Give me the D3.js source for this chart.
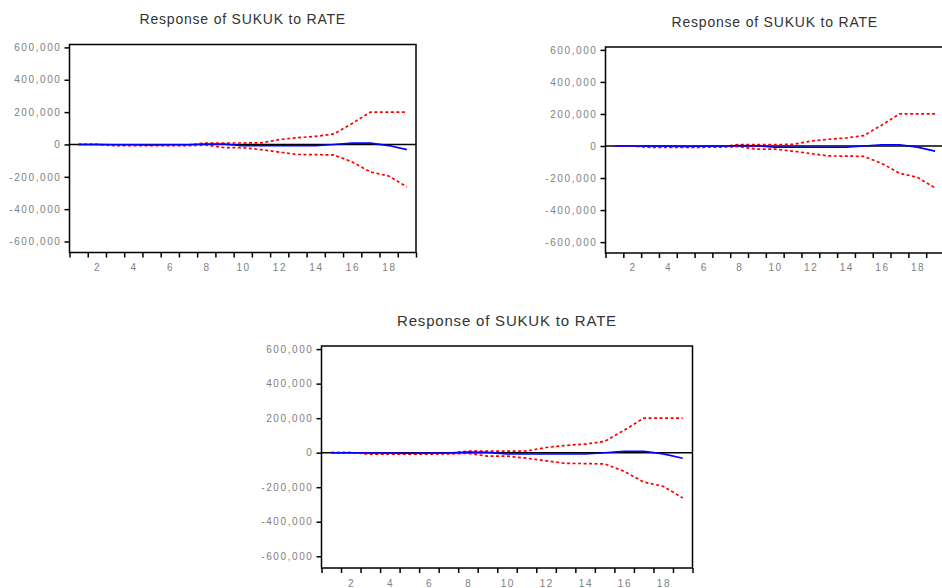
<!DOCTYPE html>
<html>
<head>
<meta charset="utf-8">
<script src="https://cdn.jsdelivr.net/npm/d3@7"></script>
<style>
  body { margin: 0; background: #fff; }
  svg { display: block; }
</style>
</head>
<body>
<script>
var CANVAS_WIDTH = 942;
var CANVAS_HEIGHT = 588;

// impulse response (same in all three panels)
var periods = [1, 2, 3, 4, 5, 6, 7, 8, 9, 10, 11, 12, 13, 14, 15, 16, 17, 18, 19];
var response = [0, 0, -2000, -2000, -3000, -2000, -2000, 3000, 2000, -8000, -8000, -8000, -8000, -8000, 0, 8000, 8000, -7000, -32000];
var upperBand = [0, 0, -5000, -5000, -5000, -5000, -3000, 9000, 9000, 9000, 10000, 30000, 42000, 50000, 65000, 130000, 200000, 200000, 200000];
var lowerBand = [0, 0, -8000, -8000, -8000, -8000, -7000, -4000, -20000, -20000, -32000, -47000, -62000, -63000, -65000, -108000, -170000, -195000, -262000];
var yTicks = [-600000, -400000, -200000, 0, 200000, 400000, 600000];
var xLabels = [2, 4, 6, 8, 10, 12, 14, 16, 18];
var chartTitle = "Response of SUKUK to RATE";

// where each copy of the chart sits
var panels = [
    { left: 69.5, right: 416, top: 44.5, bottom: 252.5, titleY: 24, titleSize: 14, labelY: 271 },
    { left: 605.5, right: 944, top: 47, bottom: 253, titleY: 27, titleSize: 14, labelY: 271 },
    { left: 321.5, right: 692.5, top: 346, bottom: 568, titleY: 326, titleSize: 15, labelY: 587 }
];

var canvas = d3.select("body")
                .append("svg")
                .attr("width", CANVAS_WIDTH)
                .attr("height", CANVAS_HEIGHT);

function formatTick(d) {
    return (d < 0 ? "-" : "") + d3.format(",")(Math.abs(d));
}

function drawPanel(canvas, p) {
    var x = d3.scaleLinear().domain([0.5, 19.5]).range([p.left, p.right]);
    var y = d3.scaleLinear().domain([-668000, 618000]).range([p.bottom, p.top]);
    var g = canvas.append("g");

    g.append("text")
        .attr("x", (p.left + p.right) / 2)
        .attr("y", p.titleY)
        .attr("text-anchor", "middle")
        .attr("font-family", "Liberation Sans, Arial, sans-serif")
        .attr("font-size", p.titleSize + "px")
        .attr("letter-spacing", "0.8px")
        .attr("fill", "#333")
        .text(chartTitle);

    // y axis
    var yAxis = g.append("g")
        .attr("transform", "translate(" + p.left + ",0)")
        .call(d3.axisLeft(y).tickValues(yTicks).tickSize(5).tickPadding(3).tickFormat(formatTick));
    yAxis.select(".domain").remove();
    yAxis.selectAll("line").attr("stroke", "#000").attr("stroke-width", 1.5);
    yAxis.selectAll("text")
        .attr("font-family", "Liberation Sans, Arial, sans-serif")
        .attr("font-size", "10px")
        .attr("letter-spacing", "1.6px")
        .attr("fill", "#808080");

    // x axis: ticks on period boundaries, labels in the middle
    var edges = periods.map(d => d - 0.5).concat([19.5]);
    var xTickAxis = g.append("g")
        .attr("transform", "translate(0," + p.bottom + ")")
        .call(d3.axisBottom(x).tickValues(edges).tickSize(5).tickFormat(""));
    xTickAxis.select(".domain").remove();
    xTickAxis.selectAll("line").attr("stroke", "#000").attr("stroke-width", 1.5);

    g.selectAll(".xlab")
        .data(xLabels)
        .enter().append("text")
        .attr("class", "xlab")
        .attr("x", d => x(d) + 0.8)
        .attr("y", p.labelY)
        .attr("text-anchor", "middle")
        .attr("font-family", "Liberation Sans, Arial, sans-serif")
        .attr("font-size", "10px")
        .attr("letter-spacing", "1.6px")
        .attr("fill", "#808080")
        .text(d => d);

    // zero line
    g.append("line")
        .attr("x1", p.left).attr("x2", p.right)
        .attr("y1", y(0)).attr("y2", y(0))
        .attr("stroke", "#000")
        .attr("stroke-width", 1.5);

    var line = d3.line()
        .x((d, i) => x(periods[i]))
        .y(d => y(d));

    [upperBand, lowerBand].forEach(function(band) {
        g.append("path")
            .attr("d", line(band))
            .attr("fill", "none")
            .attr("stroke", "#ff0000")
            .attr("stroke-width", 1.7)
            .attr("stroke-dasharray", "3,2.5");
    });

    g.append("path")
        .attr("d", line(response))
        .attr("fill", "none")
        .attr("stroke", "#0000ff")
        .attr("stroke-width", 1.6);

    // frame
    g.append("rect")
        .attr("x", p.left)
        .attr("y", p.top)
        .attr("width", p.right - p.left)
        .attr("height", p.bottom - p.top)
        .attr("fill", "none")
        .attr("stroke", "#000")
        .attr("stroke-width", 1.5);
}

panels.forEach(p => drawPanel(canvas, p));
</script>
</body>
</html>
